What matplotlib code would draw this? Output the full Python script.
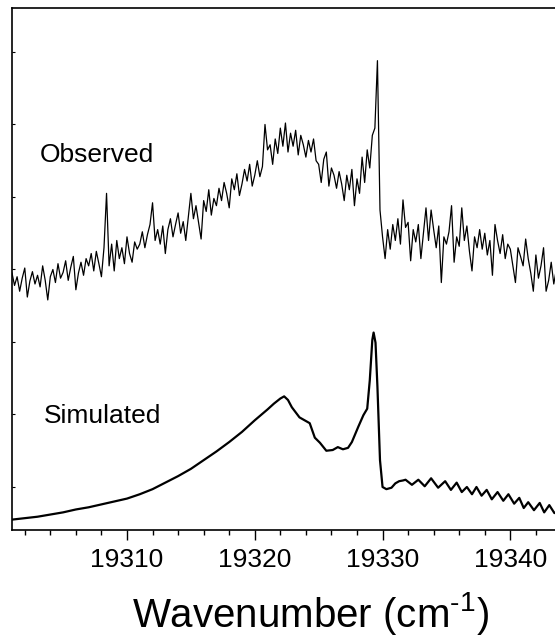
import numpy as np
import matplotlib
matplotlib.use("Agg")
import matplotlib.pyplot as plt
from matplotlib.ticker import MultipleLocator

plt.rcParams['font.family'] = ['Liberation Sans', 'DejaVu Sans']
plt.rcParams['mathtext.fontset'] = 'custom'
plt.rcParams['mathtext.rm'] = 'Liberation Sans'

# observed spectrum, 0.2 cm-1 steps from 19301.0 to 19344.0 (arb. units, offset trace)
obs_start, obs_step = 19301.0, 0.2
obs_int = [
    2.95, 2.78, 2.90, 2.70, 2.88, 3.02, 2.62, 2.84, 2.97, 2.80,
    2.92, 2.76, 3.05, 2.85, 2.58, 2.90, 3.00, 2.82, 3.08, 2.88,
    2.96, 3.12, 2.85, 3.03, 3.18, 2.72, 2.95, 3.10, 2.92, 3.15,
    3.05, 3.22, 2.98, 3.25, 3.08, 2.90, 3.30, 4.05, 3.05, 3.35,
    2.98, 3.40, 3.15, 3.30, 3.08, 3.45, 3.22, 3.10, 3.38, 3.28,
    3.35, 3.52, 3.30, 3.48, 3.62, 3.92, 3.40, 3.55, 3.35, 3.60,
    3.22, 3.55, 3.70, 3.45, 3.62, 3.78, 3.50, 3.66, 3.40, 3.72,
    4.05, 3.70, 3.88, 3.65, 3.42, 3.95, 3.80, 4.10, 3.75, 3.98,
    3.88, 4.12, 3.95, 4.20, 4.05, 3.85, 4.25, 4.10, 4.32, 4.02,
    4.18, 4.38, 4.22, 4.45, 4.15, 4.30, 4.50, 4.28, 4.42, 5.00,
    4.65, 4.72, 4.45, 4.80, 4.60, 4.95, 4.70, 5.02, 4.62, 4.88,
    4.70, 4.92, 4.58, 4.85, 4.72, 4.55, 4.78, 4.62, 4.80, 4.50,
    4.45, 4.20, 4.52, 4.62, 4.15, 4.40, 4.30, 4.12, 4.35, 4.18,
    3.95, 4.30, 4.10, 4.38, 3.88, 4.25, 4.05, 4.55, 4.20, 4.65,
    4.40, 4.85, 4.95, 5.88, 3.82, 3.45, 3.15, 3.55, 3.28, 3.62,
    3.40, 3.70, 3.35, 3.96, 3.58, 3.65, 3.12, 3.55, 3.38, 3.62,
    3.15, 3.50, 3.85, 3.40, 3.82, 3.55, 3.30, 3.60, 2.82, 3.45,
    3.35, 3.52, 3.88, 3.10, 3.45, 3.32, 3.85, 3.40, 3.60, 3.25,
    2.98, 3.45, 3.30, 3.55, 3.28, 3.50, 3.20, 3.40, 2.92, 3.62,
    3.40, 3.22, 3.48, 3.15, 3.35, 3.28, 3.05, 2.82, 3.30, 3.18,
    3.05, 3.42, 3.15, 2.95, 2.70, 3.20, 2.88, 3.05, 3.30, 2.70,
    2.85, 3.10, 2.80, 3.00, 2.75, 2.90,
]

# simulated spectrum
sim_wn = [
    19301.0, 19302.0, 19303.0, 19304.0, 19305.0, 19306.0, 19307.0, 19308.0,
    19309.0, 19310.0, 19311.0, 19312.0, 19313.0, 19314.0, 19315.0, 19316.0,
    19317.0, 19318.0, 19319.0, 19320.0, 19321.0, 19321.5, 19322.0, 19322.3,
    19322.6, 19322.9, 19323.5, 19324.0, 19324.3, 19324.7, 19325.1, 19325.6,
    19326.1, 19326.5, 19326.9, 19327.3, 19327.6, 19328.1, 19328.5, 19328.8,
    19329.0, 19329.2, 19329.3, 19329.45, 19329.6, 19329.8, 19330.0, 19330.3,
    19330.7, 19331.0, 19331.3, 19331.6, 19331.8, 19332.3, 19332.8, 19333.3,
    19333.8, 19334.35, 19334.9, 19335.35, 19335.8, 19336.2, 19336.6, 19337.0,
    19337.35, 19337.75, 19338.15, 19338.55, 19339.0, 19339.45, 19339.85, 19340.3,
    19340.7, 19341.05, 19341.4, 19341.85, 19342.3, 19342.65, 19343.05, 19343.45,
    19344.0,
]
sim_int = [
    -0.45, -0.43, -0.41, -0.38, -0.35, -0.31, -0.28, -0.24,
    -0.20, -0.16, -0.10, -0.03, 0.06, 0.15, 0.25, 0.37,
    0.49, 0.62, 0.76, 0.92, 1.07, 1.15, 1.22, 1.25,
    1.20, 1.10, 0.96, 0.91, 0.88, 0.68, 0.61, 0.50,
    0.51, 0.55, 0.52, 0.54, 0.62, 0.83, 0.99, 1.08,
    1.47, 2.03, 2.13, 1.99, 1.38, 0.37, 0.00, -0.03,
    -0.01, 0.05, 0.08, 0.09, 0.10, 0.03, 0.10, 0.01,
    0.12, -0.01, 0.08, -0.04, 0.06, -0.07, 0.00, -0.10,
    0.00, -0.12, -0.04, -0.17, -0.07, -0.19, -0.10, -0.23,
    -0.15, -0.29, -0.21, -0.32, -0.22, -0.35, -0.25, -0.36,
    -0.30,
]

obs_wn = obs_start + obs_step * np.arange(len(obs_int))

fig = plt.figure(figsize=(5.55, 6.37), dpi=100)
ax = fig.add_axes([0.0216, 0.168, 0.99, 0.8195])

ax.plot(obs_wn, obs_int, color='black', lw=0.9)
ax.plot(sim_wn, sim_int, color='black', lw=1.6, solid_joinstyle='round')

ax.set_xlim(19301, 19344)
ax.set_ylim(-0.593, 6.607)

ax.text(19303.2, 4.58, 'Observed', fontsize=19, va='center', ha='left')
ax.text(19303.5, 0.98, 'Simulated', fontsize=19, va='center', ha='left')

ax.xaxis.set_major_locator(MultipleLocator(10))
ax.xaxis.set_minor_locator(MultipleLocator(2))
ax.set_yticks(range(0, 7))
ax.set_yticklabels([])
ax.tick_params(axis='x', which='major', direction='out', length=7, width=1.0,
               labelsize=19, pad=6)
ax.tick_params(axis='x', which='minor', direction='out', length=3.5, width=1.0)
ax.tick_params(axis='y', which='major', direction='in', length=2.5, width=0.8)
ax.tick_params(top=False, right=False)
for sp in ax.spines.values():
    sp.set_linewidth(1.2)

ax.set_xlabel(r'Wavenumber (cm$^{\text{-1}}$)', fontsize=29)
ax.xaxis.set_label_coords(0.544, -0.115)

fig.savefig('out.png', dpi=100)
